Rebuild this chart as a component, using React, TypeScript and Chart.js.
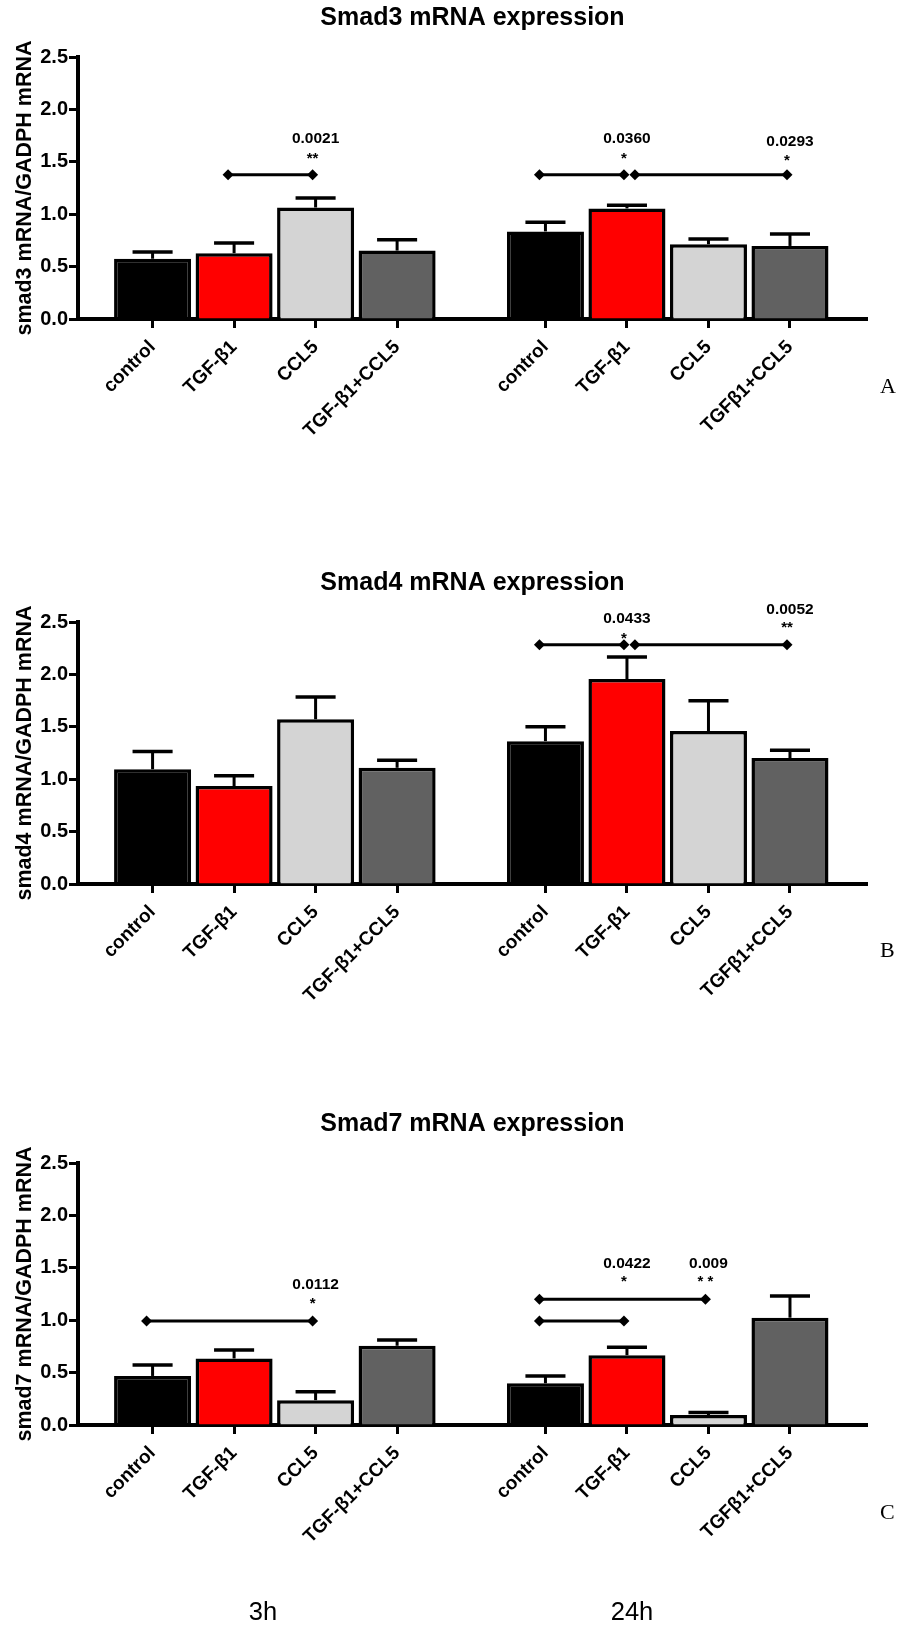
import { useEffect, useRef } from 'react';
import { Chart, registerables } from 'chart.js';

Chart.register(...registerables);

const SANS = '"Liberation Sans", Arial, Helvetica, sans-serif';
const SERIF = '"Liberation Serif", "Times New Roman", serif';

// Treatment labels printed under each time point
const TREATMENTS_3H = ['control', 'TGF-β1', 'CCL5', 'TGF-β1+CCL5'];
const TREATMENTS_24H = ['control', 'TGF-β1', 'CCL5', 'TGFβ1+CCL5'];
const TIMEPOINTS = ['3h', '24h'];
const Y_TICKS = [0, 0.5, 1.0, 1.5, 2.0, 2.5];

// Smad3 mRNA / GAPDH mRNA (mean and SEM)
const SMAD3_MEAN_3H = [0.575, 0.628, 1.064, 0.653];
const SMAD3_SEM_3H = [0.064, 0.097, 0.091, 0.104];
const SMAD3_MEAN_24H = [0.836, 1.055, 0.713, 0.697];
const SMAD3_SEM_24H = [0.086, 0.03, 0.05, 0.114];

// Smad4 mRNA / GAPDH mRNA
const SMAD4_MEAN_3H = [1.095, 0.934, 1.572, 1.109];
const SMAD4_SEM_3H = [0.17, 0.1, 0.213, 0.072];
const SMAD4_MEAN_24H = [1.363, 1.955, 1.46, 1.202];
const SMAD4_SEM_24H = [0.137, 0.21, 0.289, 0.075];

// Smad7 mRNA / GAPDH mRNA
const SMAD7_MEAN_3H = [0.468, 0.635, 0.237, 0.756];
const SMAD7_SEM_3H = [0.105, 0.081, 0.081, 0.056];
const SMAD7_MEAN_24H = [0.398, 0.666, 0.095, 1.024];
const SMAD7_SEM_24H = [0.07, 0.076, 0.025, 0.208];

// Pairwise comparisons: time point index, compared bars, bracket height, p-value and its marks
const SMAD3_TESTS = [
  { time: 0, from: 1, to: 2, at: 1.377, p: '0.0021', stars: '**', pAt: 1.73, starsAt: 1.577 },
  { time: 1, from: 0, to: 1, at: 1.377, p: '0.0360', stars: '*', pAt: 1.733, starsAt: 1.577 },
  { time: 1, from: 1, to: 3, at: 1.377, p: '0.0293', stars: '*', pAt: 1.704, starsAt: 1.558 },
];
const SMAD4_TESTS = [
  { time: 1, from: 0, to: 1, at: 2.283, p: '0.0433', stars: '*', pAt: 2.548, starsAt: 2.387 },
  { time: 1, from: 1, to: 3, at: 2.283, p: '0.0052', stars: '**', pAt: 2.634, starsAt: 2.49 },
];
const SMAD7_TESTS = [
  { time: 0, from: 0, to: 2, at: 0.993, p: '0.0112', stars: '*', pAt: 1.353, starsAt: 1.2 },
  { time: 1, from: 0, to: 2, at: 1.2, p: '0.009', stars: '* *', pAt: 1.55, starsAt: 1.407 },
  { time: 1, from: 0, to: 1, at: 0.993, p: '0.0422', stars: '*', pAt: 1.55, starsAt: 1.407 },
];

// Fill colours per treatment
const BAR_COLORS = ['#000000', '#ff0000', '#d4d4d4', '#616161'];

// Canvas / plot geometry
const W = 905;
const H = 519;
const PLOT_LEFT = 78;
const PLOT_RIGHT_PAD = 38;
const PLOT_BOTTOM = 319;
const GROUP_GAP = 0.82; // extra slots between the 3h and 24h groups
const X_MIN = -0.915;
const X_MAX = 8.765;

const slot = (time: number, i: number) => time * (TREATMENTS_3H.length + GROUP_GAP) + i;
const SLOTS = TIMEPOINTS.flatMap((_, t) => TREATMENTS_3H.map((_, i) => slot(t, i)));
const X_LABELS = [...TREATMENTS_3H, ...TREATMENTS_24H];

type Test = {
  time: number; from: number; to: number; at: number;
  p: string; stars: string; pAt: number; starsAt: number;
};

type Panel = {
  title: string;
  yTitle: string;
  letter: string;
  letterY: number;
  top: number;
  mean: number[];
  sem: number[];
  tests: Test[];
  showTimes: boolean;
};

const PANELS: Panel[] = [
  {
    title: 'Smad3 mRNA expression', yTitle: 'smad3 mRNA/GADPH mRNA', letter: 'A', letterY: 393, top: 0,
    mean: [...SMAD3_MEAN_3H, ...SMAD3_MEAN_24H], sem: [...SMAD3_SEM_3H, ...SMAD3_SEM_24H],
    tests: SMAD3_TESTS, showTimes: false,
  },
  {
    title: 'Smad4 mRNA expression', yTitle: 'smad4 mRNA/GADPH mRNA', letter: 'B', letterY: 392, top: 565,
    mean: [...SMAD4_MEAN_3H, ...SMAD4_MEAN_24H], sem: [...SMAD4_SEM_3H, ...SMAD4_SEM_24H],
    tests: SMAD4_TESTS, showTimes: false,
  },
  {
    title: 'Smad7 mRNA expression', yTitle: 'smad7 mRNA/GADPH mRNA', letter: 'C', letterY: 413, top: 1106,
    mean: [...SMAD7_MEAN_3H, ...SMAD7_MEAN_24H], sem: [...SMAD7_SEM_3H, ...SMAD7_SEM_24H],
    tests: SMAD7_TESTS, showTimes: true,
  },
];

function diamond(ctx: CanvasRenderingContext2D, x: number, y: number, r: number) {
  ctx.beginPath();
  ctx.moveTo(x, y - r);
  ctx.lineTo(x + r, y);
  ctx.lineTo(x, y + r);
  ctx.lineTo(x - r, y);
  ctx.closePath();
  ctx.fill();
}

// Error bars, significance brackets, panel letter and time-point captions
function extrasPlugin(panel: Panel) {
  return {
    id: 'extras',
    afterDatasetsDraw(chart: any) {
      const { ctx } = chart;
      const xs = chart.scales.x;
      const ys = chart.scales.y;
      const bars = chart.getDatasetMeta(0).data;
      ctx.save();
      ctx.strokeStyle = '#000';
      ctx.fillStyle = '#000';
      ctx.lineCap = 'butt';

      panel.mean.forEach((m, i) => {
        const bar = bars[i];
        const yBase = ys.getPixelForValue(m);
        const yTop = ys.getPixelForValue(m + panel.sem[i]);
        const half = bar.width * 0.26;
        ctx.lineWidth = 3;
        ctx.beginPath();
        ctx.moveTo(bar.x, yBase);
        ctx.lineTo(bar.x, yTop);
        ctx.stroke();
        ctx.lineWidth = 3.5;
        ctx.beginPath();
        ctx.moveTo(bar.x - half, yTop);
        ctx.lineTo(bar.x + half, yTop);
        ctx.stroke();
      });

      panel.tests.forEach((t) => {
        const joined = panel.tests.some(
          (o) => o !== t && o.time === t.time && o.at === t.at && o.to === t.from,
        );
        const x1 = xs.getPixelForValue(slot(t.time, t.from)) + (joined ? 8 : -6);
        const x2 = xs.getPixelForValue(slot(t.time, t.to)) - 3;
        const yy = ys.getPixelForValue(t.at);
        ctx.lineWidth = 3;
        ctx.beginPath();
        ctx.moveTo(x1, yy);
        ctx.lineTo(x2, yy);
        ctx.stroke();
        diamond(ctx, x1, yy, 5.5);
        diamond(ctx, x2, yy, 5.5);

        ctx.textAlign = 'center';
        ctx.textBaseline = 'alphabetic';
        ctx.font = `bold 15.5px ${SANS}`;
        ctx.fillText(t.p, x2 + 3, ys.getPixelForValue(t.pAt) + 0.358 * 15.5);
        ctx.font = `bold 15px ${SANS}`;
        ctx.fillText(t.stars, x2, ys.getPixelForValue(t.starsAt) + 0.59 * 15);
      });
      ctx.restore();
    },
    afterDraw(chart: any) {
      const { ctx } = chart;
      ctx.save();
      ctx.fillStyle = '#000';
      ctx.textBaseline = 'alphabetic';
      ctx.textAlign = 'left';
      ctx.font = `22px ${SERIF}`;
      ctx.fillText(panel.letter, 880, panel.letterY);
      if (panel.showTimes) {
        ctx.textAlign = 'center';
        ctx.font = `25.5px ${SANS}`;
        ctx.fillText(TIMEPOINTS[0], 263, 514);
        ctx.fillText(TIMEPOINTS[1], 632, 514);
      }
      ctx.restore();
    },
  };
}

function makeConfig(panel: Panel): any {
  return {
    type: 'bar',
    data: {
      datasets: [
        {
          data: SLOTS.map((x, i) => ({ x, y: panel.mean[i] })),
          backgroundColor: SLOTS.map((_, i) => BAR_COLORS[i % BAR_COLORS.length]),
          borderColor: '#000',
          borderWidth: 3.5,
          borderSkipped: 'start',
          barPercentage: 0.945,
          categoryPercentage: 1,
        },
      ],
    },
    options: {
      responsive: false,
      animation: false,
      events: [],
      layout: { padding: { left: 0, right: PLOT_RIGHT_PAD, top: 0, bottom: 0 } },
      plugins: {
        legend: { display: false },
        tooltip: { enabled: false },
        title: {
          display: true,
          text: panel.title,
          fullSize: false,
          color: '#000',
          font: { family: SANS, size: 25, weight: 'bold', lineHeight: 1.2 },
          padding: { top: 3.5, bottom: 23.5 },
        },
      },
      scales: {
        x: {
          type: 'linear',
          min: X_MIN,
          max: X_MAX,
          offset: false,
          grid: {
            display: true,
            drawOnChartArea: false,
            drawTicks: true,
            tickLength: 9,
            tickWidth: 3,
            tickColor: '#000',
            offset: false,
          },
          border: { display: true, color: '#000', width: 4 },
          afterBuildTicks: (s: any) => {
            s.ticks = SLOTS.map((v) => ({ value: v }));
          },
          afterFit: (s: any) => {
            s.height = H - PLOT_BOTTOM;
          },
          ticks: {
            autoSkip: false,
            minRotation: 45,
            maxRotation: 45,
            padding: 8,
            color: '#000',
            font: { family: SANS, size: 19, weight: 'bold' },
            callback: (_v: number, i: number) => X_LABELS[i],
          },
        },
        y: {
          min: 0,
          max: 2.5,
          grid: {
            display: true,
            drawOnChartArea: false,
            drawTicks: true,
            tickLength: 9,
            tickWidth: 3,
            tickColor: '#000',
          },
          border: { display: true, color: '#000', width: 4 },
          afterBuildTicks: (s: any) => {
            s.ticks = Y_TICKS.map((v) => ({ value: v }));
          },
          afterFit: (s: any) => {
            s.width = PLOT_LEFT;
          },
          ticks: {
            padding: 1,
            color: '#000',
            font: { family: SANS, size: 20, weight: 'bold' },
            callback: (v: number) => Number(v).toFixed(1),
          },
          title: {
            display: true,
            text: panel.yTitle,
            color: '#000',
            font: { family: SANS, size: 21.5, weight: 'bold' },
            padding: { top: 12.5, bottom: 0 },
          },
        },
      },
    },
    plugins: [extrasPlugin(panel)],
  };
}

function PanelChart({ panel }: { panel: Panel }) {
  const ref = useRef<HTMLCanvasElement>(null);
  useEffect(() => {
    if (!ref.current) return;
    const chart = new Chart(ref.current, makeConfig(panel));
    return () => chart.destroy();
  }, [panel]);
  return (
    <canvas
      ref={ref}
      width={W}
      height={H}
      style={{ position: 'absolute', left: 0, top: panel.top, width: W, height: H, display: 'block' }}
    />
  );
}

export default function App() {
  return (
    <div style={{ position: 'absolute', left: 0, top: 0, width: W, height: 1625, background: '#fff' }}>
      {PANELS.map((p) => (
        <PanelChart key={p.letter} panel={p} />
      ))}
    </div>
  );
}
